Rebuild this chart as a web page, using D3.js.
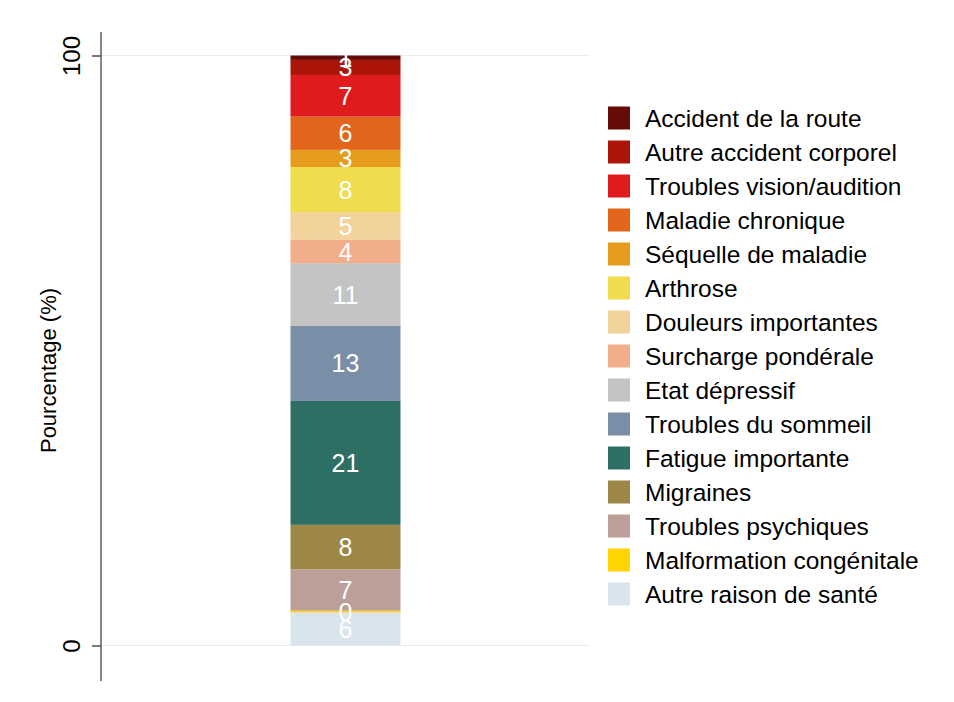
<!DOCTYPE html>
<html lang="fr">
<head>
<meta charset="utf-8">
<script src="https://cdn.jsdelivr.net/npm/d3@7"></script>
<style>
  html, body { margin: 0; padding: 0; background: #ffffff; }
  svg { display: block; font-family: "Liberation Sans", Arial, sans-serif; }
</style>
</head>
<body>
<svg id="chart" width="954" height="702"></svg>
<script>
// Reasons, stacked from the bottom of the bar upward
const categories = [
  "Autre raison de santé",
  "Malformation congénitale",
  "Troubles psychiques",
  "Migraines",
  "Fatigue importante",
  "Troubles du sommeil",
  "Etat dépressif",
  "Surcharge pondérale",
  "Douleurs importantes",
  "Arthrose",
  "Séquelle de maladie",
  "Maladie chronique",
  "Troubles vision/audition",
  "Autre accident corporel",
  "Accident de la route"
];
// Share of each reason (%)
const values = [5.6, 0.3, 7.0, 7.55, 21.0, 12.7, 10.65, 3.95, 4.7, 7.65, 2.9, 5.65, 7.05, 2.55, 0.75];
const colors = [
  "#d8e5ec", "#ffd400", "#bd9f99", "#9c8747", "#2e6f65",
  "#7a8fa7", "#c4c4c4", "#f2ae8b", "#f2d39c", "#f0dc4c",
  "#e69d1d", "#e2651b", "#e01b1d", "#ab1509", "#650c06"
];
const yTicks = [0, 100];
const yTitle = "Pourcentage (%)";

const svg = d3.select("#chart");

const plot = { left: 101, right: 590, top: 55.5, bottom: 645.5 };

const y = d3.scaleLinear().domain([0, 100]).range([plot.bottom, plot.top]);
const x = d3.scaleBand().domain(["all"]).range([plot.left, plot.right])
  .paddingInner(0).paddingOuter(1.7225);

// stacked layout
const row = { key: "all" };
categories.forEach((c, i) => row[c] = values[i]);
const stack = d3.stack().keys(categories)([row]);
const color = d3.scaleOrdinal().domain(categories).range(colors);

// grid lines at the tick values
svg.append("g")
  .selectAll("line")
  .data(yTicks)
  .join("line")
  .attr("x1", plot.left).attr("x2", plot.right)
  .attr("y1", d => y(d)).attr("y2", d => y(d))
  .attr("stroke", "#e6edf1").attr("stroke-width", 1.2);

// bar segments
svg.append("g")
  .selectAll("rect")
  .data(stack)
  .join("rect")
  .attr("x", x("all"))
  .attr("width", x.bandwidth())
  .attr("y", d => y(d[0][1]))
  .attr("height", d => y(d[0][0]) - y(d[0][1]))
  .attr("fill", d => color(d.key));

// value labels
svg.append("g")
  .selectAll("text")
  .data(stack)
  .join("text")
  .attr("x", x("all") + x.bandwidth() / 2)
  .attr("y", d => y((d[0][0] + d[0][1]) / 2))
  .attr("dy", "0.36em")
  .attr("text-anchor", "middle")
  .attr("fill", "#ffffff")
  .attr("font-size", 25)
  .text(d => d3.format(".0f")(d[0][1] - d[0][0]));

// y axis
const yAxis = svg.append("g")
  .attr("transform", `translate(${plot.left},0)`)
  .call(d3.axisLeft(y).tickValues(yTicks).tickSize(9).tickFormat(d3.format("d")));
yAxis.select(".domain").remove();
yAxis.selectAll(".tick line").attr("stroke", "#333").attr("stroke-width", 1.3);
// labels rotated around their own tick positions
yAxis.selectAll(".tick text")
  .attr("font-size", 24)
  .attr("fill", "#000")
  .attr("font-family", "Liberation Sans, Arial, sans-serif")
  .attr("transform", "rotate(-90)")
  .attr("x", 0).attr("y", -21)
  .attr("dy", "0em")
  .attr("text-anchor", "middle");

svg.append("line")
  .attr("x1", plot.left).attr("x2", plot.left)
  .attr("y1", 32).attr("y2", 681)
  .attr("stroke", "#444").attr("stroke-width", 1.3);

svg.append("text")
  .attr("transform", `translate(56,${(plot.top + plot.bottom) / 2 + 20}) rotate(-90)`)
  .attr("text-anchor", "middle")
  .attr("font-size", 22)
  .attr("fill", "#000")
  .text(yTitle);

// legend: top of stack first
const legendItems = categories.slice().reverse();
const legend = svg.append("g").attr("transform", "translate(608,118)");
const items = legend.selectAll("g")
  .data(legendItems)
  .join("g")
  .attr("transform", (d, i) => `translate(0,${i * 34})`);
items.append("rect")
  .attr("x", 0).attr("y", -11.5)
  .attr("width", 22).attr("height", 23)
  .attr("fill", d => color(d));
items.append("text")
  .attr("x", 37).attr("y", 0)
  .attr("dy", "0.36em")
  .attr("font-size", 24.5)
  .attr("fill", "#000")
  .text(d => d);
</script>
</body>
</html>
